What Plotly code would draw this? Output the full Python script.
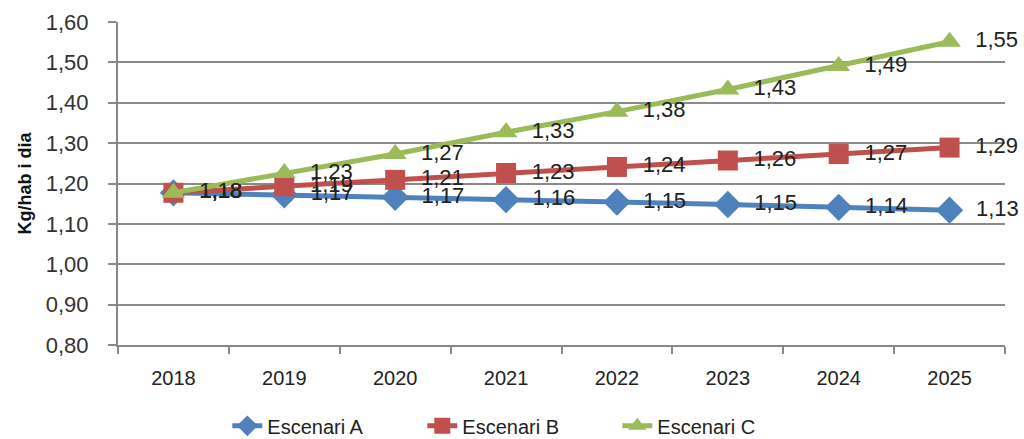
import plotly.graph_objects as go

years = ["2018", "2019", "2020", "2021", "2022", "2023", "2024", "2025"]
escenari_a = [1.177, 1.172, 1.166, 1.160, 1.154, 1.148, 1.141, 1.134]
escenari_b = [1.177, 1.193, 1.209, 1.226, 1.241, 1.257, 1.273, 1.289]
escenari_c = [1.177, 1.226, 1.273, 1.327, 1.378, 1.433, 1.491, 1.551]
y_ticks = [0.8, 0.9, 1.0, 1.1, 1.2, 1.3, 1.4, 1.5, 1.6]

series = [
    ("Escenari A", escenari_a, "#4F81BD", "diamond", 21),
    ("Escenari B", escenari_b, "#C0504D", "square", 20),
    ("Escenari C", escenari_c, "#9BBB59", "triangle-up", 20),
]

font_main = "Liberation Sans, Arial, sans-serif"

fig = go.Figure()
for name, vals, color, sym, size in series:
    fig.add_trace(go.Scatter(
        x=years, y=vals, name=name, mode="lines+markers+text",
        line=dict(color=color, width=5),
        marker=dict(symbol=sym, size=size, color=color),
        texttemplate="\u00a0\u00a0%{y:.2f}",
        textposition="middle right",
        textfont=dict(family=font_main, size=22, color="#222222"),
        cliponaxis=False,
    ))

fig.update_layout(
    width=1024, height=439,
    margin=dict(l=118, r=19, t=22, b=94),
    paper_bgcolor="white", plot_bgcolor="white",
    separators=",.",
    showlegend=True,
    legend=dict(orientation="h", x=0.453, xanchor="center", xref="paper",
                yref="container", y=0.03, yanchor="middle",
                font=dict(family=font_main, size=20, color="#222222"),
                entrywidth=150, entrywidthmode="pixels",
                traceorder="normal"),
    xaxis=dict(type="category", tickson="boundaries", ticks="outside", ticklen=7,
               tickcolor="#888888", tickwidth=2, showline=True, linecolor="#888888",
               linewidth=2, showgrid=False, range=[-0.5, 7.5], automargin=False,
               tickfont=dict(family=font_main, size=20, color="#222222"),
               ticklabelstandoff=14),
    yaxis=dict(range=[0.8, 1.6], tickvals=y_ticks, tickformat=".2f", ticks="outside",
               ticklen=8, tickcolor="#888888", tickwidth=2, showline=True,
               linecolor="#888888", linewidth=2, showgrid=True, gridcolor="#8a8a8a",
               gridwidth=2, zeroline=False, automargin=False,
               tickfont=dict(family=font_main, size=22, color="#333333"),
               ticklabelstandoff=15,
               title=dict(text="<b>Kg/hab i dia</b>", standoff=9,
                          font=dict(family=font_main, size=18, color="#111111"))),
)

fig.write_html("out.html", config={"displayModeBar": False},
               post_script="document.body.style.margin='0';document.body.style.overflow='hidden';")
